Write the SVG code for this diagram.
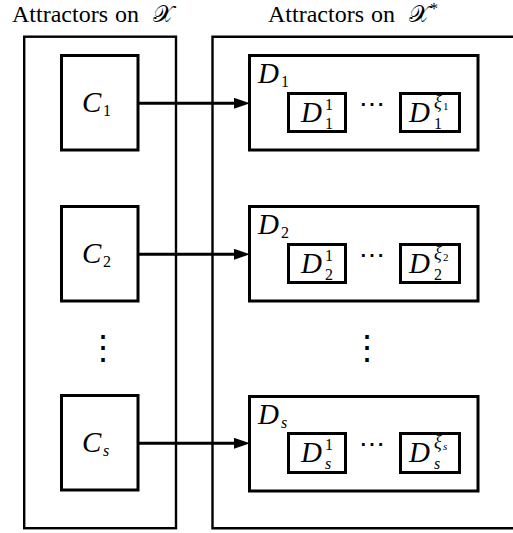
<svg xmlns="http://www.w3.org/2000/svg" width="513" height="533" viewBox="0 0 513 533">
<style>
.box{fill:none;stroke:#000;stroke-width:3}
.outer{fill:none;stroke:#000;stroke-width:2.4}
.conn{stroke:#000;stroke-width:3;fill:none}
.hd{font-size:24px}
.m{font-style:italic;font-size:29px}
.sub{font-size:16px}
.subi{font-style:italic;font-size:16px}
.xi{font-style:italic;font-size:18px}
.ss{font-size:11px}
.ssi{font-style:italic;font-size:11px}
.cal{font-size:24px}
.dots{font-size:26px}
.vdots{font-size:34px}
</style>
<defs>
<marker id="arr" markerUnits="userSpaceOnUse" markerWidth="16" markerHeight="12" refX="6" refY="5.5" orient="auto">
<path d="M0,0 L16,5.5 L0,11 z" fill="#000"/>
</marker>
</defs>

<g id="heading-left">
<text class="hd" font-family="Liberation Serif" x="12" y="22">Attractors<tspan x="115">on</tspan><tspan class="cal" x="153" font-family="DejaVu Serif">𝒳</tspan></text>
</g>
<g id="heading-right">
<text class="hd" font-family="Liberation Serif" x="268" y="22">Attractors<tspan x="371">on</tspan><tspan class="cal" x="409" font-family="DejaVu Serif">𝒳</tspan><tspan class="sub" dy="-8">*</tspan></text>
</g>

<g id="container-left">
<rect class="outer" x="24.2" y="36.7" width="151.8" height="491.5"/>
</g>
<g id="container-right">
<path class="outer" d="M514,36.7 H212.5 V528.2 H514"/>
</g>

<g id="C1">
<rect class="box" x="61.5" y="55.5" width="76.5" height="94.5"/>
<text class="m" font-family="Liberation Serif" x="82" y="112">C</text><text class="sub" font-family="Liberation Serif" x="103" y="116">1</text>
</g>
<g id="C2">
<rect class="box" x="61.5" y="206.5" width="76.5" height="94.5"/>
<text class="m" font-family="Liberation Serif" x="82" y="263">C</text><text class="sub" font-family="Liberation Serif" x="103" y="267">2</text>
</g>
<g id="vdots-left">
<text class="vdots" x="102.7" y="359" text-anchor="middle" font-family="DejaVu Serif">⋮</text>
</g>
<g id="Cs">
<rect class="box" x="61.5" y="395.5" width="76.5" height="94.5"/>
<text class="m" font-family="Liberation Serif" x="82" y="452">C</text><text class="subi" font-family="Liberation Serif" x="103" y="456">s</text>
</g>

<g id="D1">
<rect class="box" x="249.5" y="55.5" width="228.5" height="94.5"/>
<text class="m" font-family="Liberation Serif" x="258" y="83">D</text><text class="sub" font-family="Liberation Serif" x="281" y="87">1</text>
<g id="D1-1">
<rect class="box" x="288.5" y="93.5" width="57" height="38"/>
<text class="m" font-family="Liberation Serif" x="301" y="122">D</text><text class="sub" font-family="Liberation Serif" x="325" y="110">1</text><text class="sub" font-family="Liberation Serif" x="325" y="129">1</text>
</g>
<text class="dots" x="372" y="113" text-anchor="middle" font-family="DejaVu Serif">⋯</text>
<g id="D1-xi">
<rect class="box" x="400.5" y="93.5" width="59" height="38"/>
<text class="m" font-family="Liberation Serif" x="409" y="122">D</text><text class="xi" font-family="Liberation Serif" x="434" y="108">ξ</text><text class="ss" font-family="Liberation Serif" x="443" y="110">1</text><text class="sub" font-family="Liberation Serif" x="434" y="129">1</text>
</g>
</g>

<g id="D2">
<rect class="box" x="249.5" y="206.5" width="228.5" height="94.5"/>
<text class="m" font-family="Liberation Serif" x="258" y="234">D</text><text class="sub" font-family="Liberation Serif" x="281" y="238">2</text>
<g id="D2-1">
<rect class="box" x="288.5" y="244.5" width="57" height="38"/>
<text class="m" font-family="Liberation Serif" x="301" y="273">D</text><text class="sub" font-family="Liberation Serif" x="325" y="261">1</text><text class="sub" font-family="Liberation Serif" x="325" y="280">2</text>
</g>
<text class="dots" x="372" y="264" text-anchor="middle" font-family="DejaVu Serif">⋯</text>
<g id="D2-xi">
<rect class="box" x="400.5" y="244.5" width="59" height="38"/>
<text class="m" font-family="Liberation Serif" x="409" y="273">D</text><text class="xi" font-family="Liberation Serif" x="434" y="259">ξ</text><text class="ss" font-family="Liberation Serif" x="443" y="261">2</text><text class="sub" font-family="Liberation Serif" x="434" y="280">2</text>
</g>
</g>

<g id="vdots-right">
<text class="vdots" x="367.3" y="359" text-anchor="middle" font-family="DejaVu Serif">⋮</text>
</g>

<g id="Ds">
<rect class="box" x="249.5" y="396.5" width="228.5" height="94.5"/>
<text class="m" font-family="Liberation Serif" x="258" y="424">D</text><text class="subi" font-family="Liberation Serif" x="281" y="428">s</text>
<g id="Ds-1">
<rect class="box" x="288.5" y="433.5" width="57" height="39"/>
<text class="m" font-family="Liberation Serif" x="301" y="462">D</text><text class="sub" font-family="Liberation Serif" x="325" y="450">1</text><text class="subi" font-family="Liberation Serif" x="325" y="469">s</text>
</g>
<text class="dots" x="372" y="453" text-anchor="middle" font-family="DejaVu Serif">⋯</text>
<g id="Ds-xi">
<rect class="box" x="400.5" y="433.5" width="59" height="39"/>
<text class="m" font-family="Liberation Serif" x="409" y="462">D</text><text class="xi" font-family="Liberation Serif" x="434" y="448">ξ</text><text class="ssi" font-family="Liberation Serif" x="443" y="450">s</text><text class="subi" font-family="Liberation Serif" x="434" y="469">s</text>
</g>
</g>

<g id="connectors">
<line class="conn" x1="138" y1="103.3" x2="240" y2="103.3" marker-end="url(#arr)"/>
<line class="conn" x1="138" y1="254.3" x2="240" y2="254.3" marker-end="url(#arr)"/>
<line class="conn" x1="138" y1="443.3" x2="240" y2="443.3" marker-end="url(#arr)"/>
</g>
</svg>
